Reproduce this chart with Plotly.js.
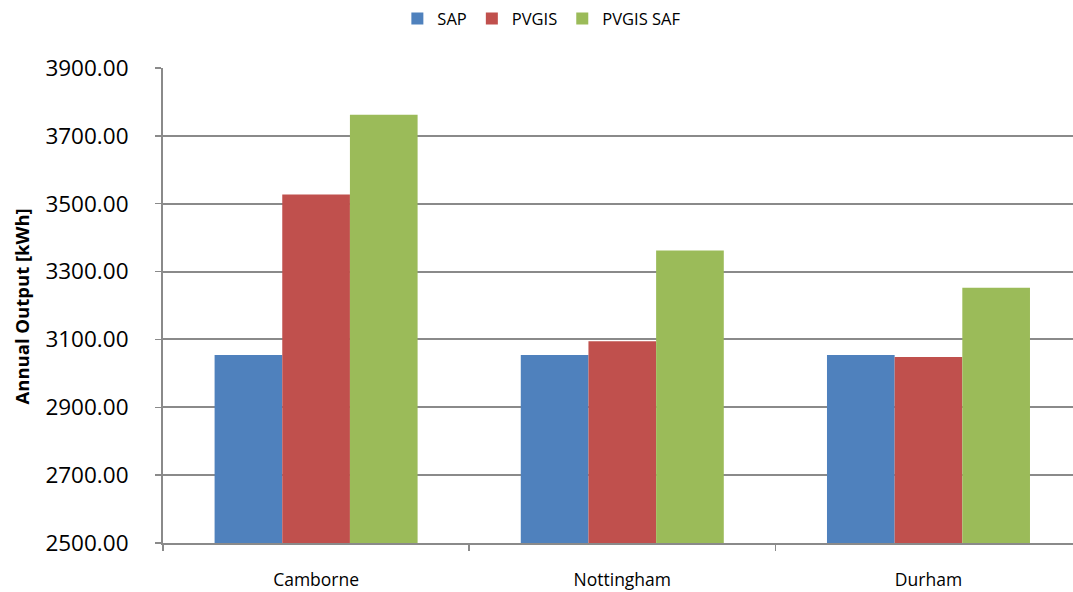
<!DOCTYPE html>
<html>
<head>
<meta charset="utf-8">
<script src="https://cdn.plot.ly/plotly-3.0.1.min.js"></script>
<style>
  html, body { margin: 0; padding: 0; background: #ffffff; }
  #chart { width: 1073px; height: 592px; }
</style>
</head>
<body>
<div id="chart"></div>
<script>
// Annual PV output per site, kWh
const sites = ['Camborne', 'Nottingham', 'Durham'];
const sapOutput = [3054, 3054, 3054];
const pvgisOutput = [3527, 3095, 3048];
const pvgisSafOutput = [3762, 3362, 3252];

const seriesNames = ['SAP', 'PVGIS', 'PVGIS SAF'];
const seriesColors = ['#4F81BD', '#C0504D', '#9BBB59'];
const seriesValues = [sapOutput, pvgisOutput, pvgisSafOutput];

const FONT = '"Open Sans", "Liberation Sans", sans-serif';
const AXIS_GREY = '#8a8a8a';

const traces = seriesNames.map((name, i) => ({
  type: 'bar',
  name: name,
  x: sites,
  y: seriesValues[i],
  marker: { color: seriesColors[i], line: { width: 0 } },
  hoverinfo: 'x+y+name'
}));

const layout = {
  width: 1073,
  height: 592,
  margin: { l: 163, r: 0, t: 68, b: 49, pad: 0 },
  paper_bgcolor: '#ffffff',
  plot_bgcolor: '#ffffff',
  barmode: 'group',
  bargap: 0.337,
  bargroupgap: 0,
  font: { family: FONT, color: '#000000' },
  showlegend: true,
  legend: {
    orientation: 'h',
    xref: 'container', yref: 'container',
    x: 0.505, xanchor: 'center',
    y: 0.998, yanchor: 'top',
    font: { family: FONT, size: 16.5, color: '#000000' },
    bgcolor: 'rgba(0,0,0,0)'
  },
  xaxis: {
    type: 'category',
    range: [-0.5, 2.472],
    showgrid: false,
    showline: true,
    linecolor: AXIS_GREY,
    linewidth: 2,
    ticks: 'outside',
    tickson: 'boundaries',
    ticklen: 6,
    tickwidth: 1.5,
    tickcolor: AXIS_GREY,
    ticklabelstandoff: 20,
    tickfont: { family: FONT, size: 17.5, color: '#000000' },
    zeroline: false,
    fixedrange: true
  },
  yaxis: {
    range: [2500, 3900],
    tick0: 2500,
    dtick: 200,
    tickformat: '.2f',
    showgrid: true,
    gridcolor: AXIS_GREY,
    gridwidth: 2,
    showline: true,
    linecolor: AXIS_GREY,
    linewidth: 2,
    ticks: 'outside',
    ticklen: 6,
    tickwidth: 1.5,
    tickcolor: AXIS_GREY,
    ticklabelstandoff: 22,
    tickfont: { family: FONT, size: 22.5, color: '#000000' },
    zeroline: false,
    fixedrange: true
  },
  annotations: [{
    text: '<b>Annual Output [kWh]</b>',
    xref: 'paper', yref: 'paper',
    x: -0.1554, y: 0.497,
    xanchor: 'center', yanchor: 'middle',
    textangle: -90,
    showarrow: false,
    font: { family: FONT, size: 18.5, color: '#000000' }
  }]
};

Plotly.newPlot('chart', traces, layout, { displayModeBar: false, staticPlot: true });
</script>
</body>
</html>
